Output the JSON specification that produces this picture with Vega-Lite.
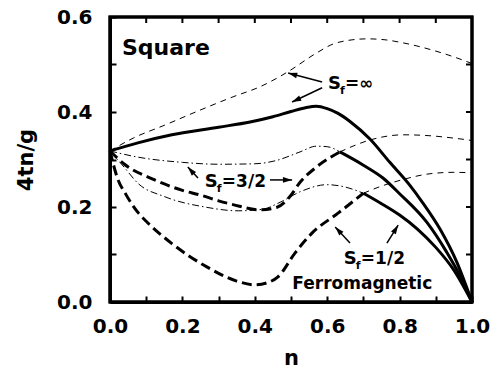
{
  "$schema": "https://vega.github.io/schema/vega-lite/v6.json",
  "width": 362,
  "height": 285,
  "autosize": {"type": "none"},
  "padding": {"left": 110, "top": 17, "right": 32, "bottom": 69},
  "background": "white",
  "view": {"stroke": "black", "strokeWidth": 3},
  "config": {
    "axis": {
      "grid": false,
      "domainColor": "black",
      "domainWidth": 3,
      "tickColor": "black",
      "tickWidth": 2,
      "tickSize": -6,
      "labelFont": "DejaVu Sans",
      "labelFontWeight": "bold",
      "labelFontSize": 20,
      "labelColor": "black",
      "labelOverlap": false,
      "labelFlush": false,
      "titleFont": "DejaVu Sans",
      "titleFontWeight": "bold",
      "titleFontSize": 21,
      "titleColor": "black"
    }
  },
  "datasets": {
    "curves": [
      {"curve": "inf-upper", "n": 0.0, "v": 0.318},
      {"curve": "inf-upper", "n": 0.064, "v": 0.345},
      {"curve": "inf-upper", "n": 0.15, "v": 0.372},
      {"curve": "inf-upper", "n": 0.249, "v": 0.404},
      {"curve": "inf-upper", "n": 0.34, "v": 0.432},
      {"curve": "inf-upper", "n": 0.414, "v": 0.453},
      {"curve": "inf-upper", "n": 0.49, "v": 0.484},
      {"curve": "inf-upper", "n": 0.57, "v": 0.524},
      {"curve": "inf-upper", "n": 0.616, "v": 0.543},
      {"curve": "inf-upper", "n": 0.66, "v": 0.551},
      {"curve": "inf-upper", "n": 0.71, "v": 0.554},
      {"curve": "inf-upper", "n": 0.76, "v": 0.552},
      {"curve": "inf-upper", "n": 0.8, "v": 0.547},
      {"curve": "inf-upper", "n": 0.892, "v": 0.53},
      {"curve": "inf-upper", "n": 0.95, "v": 0.516},
      {"curve": "inf-upper", "n": 1.0, "v": 0.502},

      {"curve": "inf-lower", "n": 0.0, "v": 0.318},
      {"curve": "inf-lower", "n": 0.077, "v": 0.335},
      {"curve": "inf-lower", "n": 0.171, "v": 0.352},
      {"curve": "inf-lower", "n": 0.3, "v": 0.368},
      {"curve": "inf-lower", "n": 0.387, "v": 0.379},
      {"curve": "inf-lower", "n": 0.45, "v": 0.39},
      {"curve": "inf-lower", "n": 0.5, "v": 0.401},
      {"curve": "inf-lower", "n": 0.54, "v": 0.409},
      {"curve": "inf-lower", "n": 0.57, "v": 0.412},
      {"curve": "inf-lower", "n": 0.6, "v": 0.407},
      {"curve": "inf-lower", "n": 0.63, "v": 0.397},
      {"curve": "inf-lower", "n": 0.663, "v": 0.38},
      {"curve": "inf-lower", "n": 0.718, "v": 0.343},
      {"curve": "inf-lower", "n": 0.773, "v": 0.294},
      {"curve": "inf-lower", "n": 0.829, "v": 0.245},
      {"curve": "inf-lower", "n": 0.862, "v": 0.211},
      {"curve": "inf-lower", "n": 0.912, "v": 0.153},
      {"curve": "inf-lower", "n": 0.958, "v": 0.084},
      {"curve": "inf-lower", "n": 1.0, "v": 0.0},

      {"curve": "3/2-B-meta", "n": 0.0, "v": 0.318},
      {"curve": "3/2-B-meta", "n": 0.077, "v": 0.305},
      {"curve": "3/2-B-meta", "n": 0.2, "v": 0.294},
      {"curve": "3/2-B-meta", "n": 0.3, "v": 0.29},
      {"curve": "3/2-B-meta", "n": 0.4, "v": 0.291},
      {"curve": "3/2-B-meta", "n": 0.46, "v": 0.298},
      {"curve": "3/2-B-meta", "n": 0.525, "v": 0.316},
      {"curve": "3/2-B-meta", "n": 0.57, "v": 0.328},
      {"curve": "3/2-B-meta", "n": 0.6, "v": 0.327},
      {"curve": "3/2-B-meta", "n": 0.635, "v": 0.316},

      {"curve": "3/2-A-stable", "n": 0.0, "v": 0.318},
      {"curve": "3/2-A-stable", "n": 0.04, "v": 0.29},
      {"curve": "3/2-A-stable", "n": 0.12, "v": 0.258},
      {"curve": "3/2-A-stable", "n": 0.2, "v": 0.235},
      {"curve": "3/2-A-stable", "n": 0.25, "v": 0.225},
      {"curve": "3/2-A-stable", "n": 0.3, "v": 0.213},
      {"curve": "3/2-A-stable", "n": 0.34, "v": 0.205},
      {"curve": "3/2-A-stable", "n": 0.414, "v": 0.194},
      {"curve": "3/2-A-stable", "n": 0.46, "v": 0.199},
      {"curve": "3/2-A-stable", "n": 0.497, "v": 0.222},
      {"curve": "3/2-A-stable", "n": 0.525, "v": 0.252},
      {"curve": "3/2-A-stable", "n": 0.57, "v": 0.284},
      {"curve": "3/2-A-stable", "n": 0.635, "v": 0.316},

      {"curve": "3/2-B-stable", "n": 0.635, "v": 0.316},
      {"curve": "3/2-B-stable", "n": 0.7, "v": 0.288},
      {"curve": "3/2-B-stable", "n": 0.754, "v": 0.261},
      {"curve": "3/2-B-stable", "n": 0.8, "v": 0.228},
      {"curve": "3/2-B-stable", "n": 0.875, "v": 0.168},
      {"curve": "3/2-B-stable", "n": 0.93, "v": 0.105},
      {"curve": "3/2-B-stable", "n": 0.965, "v": 0.058},
      {"curve": "3/2-B-stable", "n": 1.0, "v": 0.0},

      {"curve": "3/2-A-meta", "n": 0.635, "v": 0.316},
      {"curve": "3/2-A-meta", "n": 0.718, "v": 0.341},
      {"curve": "3/2-A-meta", "n": 0.81, "v": 0.352},
      {"curve": "3/2-A-meta", "n": 0.884, "v": 0.35},
      {"curve": "3/2-A-meta", "n": 0.95, "v": 0.345},
      {"curve": "3/2-A-meta", "n": 1.0, "v": 0.34},

      {"curve": "1/2-B-meta", "n": 0.0, "v": 0.318},
      {"curve": "1/2-B-meta", "n": 0.04, "v": 0.283},
      {"curve": "1/2-B-meta", "n": 0.077, "v": 0.25},
      {"curve": "1/2-B-meta", "n": 0.15, "v": 0.222},
      {"curve": "1/2-B-meta", "n": 0.262, "v": 0.2},
      {"curve": "1/2-B-meta", "n": 0.354, "v": 0.192},
      {"curve": "1/2-B-meta", "n": 0.42, "v": 0.195},
      {"curve": "1/2-B-meta", "n": 0.47, "v": 0.21},
      {"curve": "1/2-B-meta", "n": 0.525, "v": 0.232},
      {"curve": "1/2-B-meta", "n": 0.6, "v": 0.247},
      {"curve": "1/2-B-meta", "n": 0.65, "v": 0.242},
      {"curve": "1/2-B-meta", "n": 0.7, "v": 0.229},

      {"curve": "1/2-A-stable", "n": 0.0, "v": 0.318},
      {"curve": "1/2-A-stable", "n": 0.02, "v": 0.262},
      {"curve": "1/2-A-stable", "n": 0.045, "v": 0.225},
      {"curve": "1/2-A-stable", "n": 0.08, "v": 0.186},
      {"curve": "1/2-A-stable", "n": 0.1, "v": 0.17},
      {"curve": "1/2-A-stable", "n": 0.171, "v": 0.123},
      {"curve": "1/2-A-stable", "n": 0.265, "v": 0.075},
      {"curve": "1/2-A-stable", "n": 0.35, "v": 0.044},
      {"curve": "1/2-A-stable", "n": 0.4, "v": 0.036},
      {"curve": "1/2-A-stable", "n": 0.44, "v": 0.042},
      {"curve": "1/2-A-stable", "n": 0.464, "v": 0.053},
      {"curve": "1/2-A-stable", "n": 0.511, "v": 0.103},
      {"curve": "1/2-A-stable", "n": 0.558, "v": 0.145},
      {"curve": "1/2-A-stable", "n": 0.63, "v": 0.187},
      {"curve": "1/2-A-stable", "n": 0.7, "v": 0.229},

      {"curve": "1/2-B-stable", "n": 0.7, "v": 0.229},
      {"curve": "1/2-B-stable", "n": 0.75, "v": 0.207},
      {"curve": "1/2-B-stable", "n": 0.8, "v": 0.183},
      {"curve": "1/2-B-stable", "n": 0.85, "v": 0.153},
      {"curve": "1/2-B-stable", "n": 0.9, "v": 0.115},
      {"curve": "1/2-B-stable", "n": 0.95, "v": 0.067},
      {"curve": "1/2-B-stable", "n": 1.0, "v": 0.0},

      {"curve": "1/2-A-meta", "n": 0.7, "v": 0.229},
      {"curve": "1/2-A-meta", "n": 0.75, "v": 0.244},
      {"curve": "1/2-A-meta", "n": 0.81, "v": 0.258},
      {"curve": "1/2-A-meta", "n": 0.884, "v": 0.27},
      {"curve": "1/2-A-meta", "n": 0.95, "v": 0.273},
      {"curve": "1/2-A-meta", "n": 1.0, "v": 0.272}
    ],
    "arrows": [
      {"label": "inf", "n": 0.586, "v": 0.463, "n2": 0.492, "v2": 0.482},
      {"label": "inf", "n": 0.586, "v": 0.451, "n2": 0.503, "v2": 0.421},
      {"label": "3/2", "n": 0.243, "v": 0.261, "n2": 0.215, "v2": 0.284},
      {"label": "3/2", "n": 0.442, "v": 0.257, "n2": 0.503, "v2": 0.257},
      {"label": "1/2", "n": 0.663, "v": 0.124, "n2": 0.622, "v2": 0.158},
      {"label": "1/2", "n": 0.765, "v": 0.124, "n2": 0.796, "v2": 0.162}
    ],
    "arrowtips": [
      {"label": "inf", "n": 0.492, "v": 0.482, "angle": 285},
      {"label": "inf", "n": 0.503, "v": 0.421, "angle": 245},
      {"label": "3/2", "n": 0.215, "v": 0.284, "angle": 318},
      {"label": "3/2", "n": 0.503, "v": 0.257, "angle": 90},
      {"label": "1/2", "n": 0.622, "v": 0.158, "angle": 317},
      {"label": "1/2", "n": 0.796, "v": 0.162, "angle": 31}
    ],
    "spinlabels": [
      {"main": "S", "sub": "f", "rest": "=∞", "n": 0.602, "v": 0.448},
      {"main": "S", "sub": "f", "rest": "=3/2", "n": 0.262, "v": 0.242},
      {"main": "S", "sub": "f", "rest": "=1/2", "n": 0.646, "v": 0.08}
    ],
    "notes": [
      {"text": "Square", "n": 0.033, "v": 0.52, "kind": "title"},
      {"text": "Ferromagnetic", "n": 0.697, "v": 0.027, "kind": "phase"}
    ],
    "frame": [
      {"n": 0, "v": 0, "n2": 1, "v2": 0.6}
    ],
    "topticks": [
      {"n": 0.1, "v": 0.6}, {"n": 0.2, "v": 0.6}, {"n": 0.3, "v": 0.6},
      {"n": 0.4, "v": 0.6}, {"n": 0.5, "v": 0.6}, {"n": 0.6, "v": 0.6},
      {"n": 0.7, "v": 0.6}, {"n": 0.8, "v": 0.6}, {"n": 0.9, "v": 0.6}
    ],
    "rightticks": [
      {"n": 1, "v": 0.1}, {"n": 1, "v": 0.2}, {"n": 1, "v": 0.3},
      {"n": 1, "v": 0.4}, {"n": 1, "v": 0.5}
    ]
  },
  "layer": [
    {
      "data": {"name": "curves"},
      "transform": [{"filter": {"field": "curve", "oneOf": ["inf-lower", "3/2-B-stable", "1/2-B-stable"]}}],
      "mark": {"type": "line", "interpolate": "monotone", "color": "black", "strokeWidth": 3},
      "encoding": {
        "x": {
          "field": "n", "type": "quantitative",
          "scale": {"domain": [0, 1], "nice": false},
          "axis": {
            "orient": "bottom",
            "title": "n",
            "values": [0, 0.1, 0.2, 0.3, 0.4, 0.5, 0.6, 0.7, 0.8, 0.9, 1.0],
            "labelExpr": "round(datum.value*10)%2==0 ? format(datum.value, '.1f') : ''",
            "labelPadding": 20,
            "titlePadding": 11
          }
        },
        "y": {
          "field": "v", "type": "quantitative",
          "scale": {"domain": [0, 0.6], "nice": false},
          "axis": {
            "orient": "left",
            "title": "4tn/g",
            "values": [0, 0.1, 0.2, 0.3, 0.4, 0.5, 0.6],
            "labelExpr": "round(datum.value*10)%2==0 ? format(datum.value, '.1f') : ''",
            "labelPadding": 24,
            "titlePadding": 20
          }
        },
        "detail": {"field": "curve", "type": "nominal"}
      }
    },
    {
      "data": {"name": "frame"},
      "mark": {"type": "rect", "filled": false, "color": "black", "strokeWidth": 3},
      "encoding": {
        "x": {"field": "n", "type": "quantitative", "axis": null},
        "x2": {"field": "n2"},
        "y": {"field": "v", "type": "quantitative", "axis": null},
        "y2": {"field": "v2"}
      }
    },
    {
      "data": {"name": "topticks"},
      "mark": {"type": "rule", "color": "black", "strokeWidth": 2, "y2Offset": 6},
      "encoding": {
        "x": {"field": "n", "type": "quantitative", "axis": null},
        "y": {"field": "v", "type": "quantitative", "axis": null},
        "y2": {"field": "v"}
      }
    },
    {
      "data": {"name": "rightticks"},
      "mark": {"type": "rule", "color": "black", "strokeWidth": 2, "x2Offset": -6},
      "encoding": {
        "x": {"field": "n", "type": "quantitative", "axis": null},
        "x2": {"field": "n"},
        "y": {"field": "v", "type": "quantitative", "axis": null}
      }
    },
    {
      "data": {"name": "arrows"},
      "mark": {"type": "rule", "color": "black", "strokeWidth": 1.5},
      "encoding": {
        "x": {"field": "n", "type": "quantitative", "axis": null},
        "y": {"field": "v", "type": "quantitative", "axis": null},
        "x2": {"field": "n2"},
        "y2": {"field": "v2"}
      }
    },
    {
      "data": {"name": "curves"},
      "transform": [{"filter": {"field": "curve", "oneOf": ["3/2-A-stable", "1/2-A-stable"]}}],
      "mark": {"type": "line", "interpolate": "monotone", "color": "black", "strokeWidth": 3, "strokeDash": [10, 5]},
      "encoding": {
        "x": {"field": "n", "type": "quantitative", "axis": null},
        "y": {"field": "v", "type": "quantitative", "axis": null},
        "detail": {"field": "curve", "type": "nominal"}
      }
    },
    {
      "data": {"name": "curves"},
      "transform": [{"filter": {"field": "curve", "oneOf": ["inf-upper", "3/2-A-meta", "1/2-A-meta"]}}],
      "mark": {"type": "line", "interpolate": "monotone", "color": "black", "strokeWidth": 1, "strokeDash": [6, 5]},
      "encoding": {
        "x": {"field": "n", "type": "quantitative", "axis": null},
        "y": {"field": "v", "type": "quantitative", "axis": null},
        "detail": {"field": "curve", "type": "nominal"}
      }
    },
    {
      "data": {"name": "curves"},
      "transform": [{"filter": {"field": "curve", "oneOf": ["3/2-B-meta", "1/2-B-meta"]}}],
      "mark": {"type": "line", "interpolate": "monotone", "color": "black", "strokeWidth": 1, "strokeDash": [7, 3, 1.5, 3]},
      "encoding": {
        "x": {"field": "n", "type": "quantitative", "axis": null},
        "y": {"field": "v", "type": "quantitative", "axis": null},
        "detail": {"field": "curve", "type": "nominal"}
      }
    },
    {
      "data": {"name": "arrowtips"},
      "mark": {"type": "point", "shape": "M0,0L0.5,1.6L-0.5,1.6Z", "filled": true, "color": "black", "size": 130, "opacity": 1},
      "encoding": {
        "x": {"field": "n", "type": "quantitative", "axis": null},
        "y": {"field": "v", "type": "quantitative", "axis": null},
        "angle": {"field": "angle", "type": "quantitative", "scale": null}
      }
    },
    {
      "data": {"name": "spinlabels"},
      "mark": {"type": "text", "font": "DejaVu Sans", "fontWeight": "bold", "fontSize": 18, "align": "left", "baseline": "alphabetic", "color": "black"},
      "encoding": {
        "x": {"field": "n", "type": "quantitative", "axis": null},
        "y": {"field": "v", "type": "quantitative", "axis": null},
        "text": {"field": "main", "type": "nominal"}
      }
    },
    {
      "data": {"name": "spinlabels"},
      "mark": {"type": "text", "font": "DejaVu Sans", "fontWeight": "bold", "fontSize": 11, "align": "left", "baseline": "alphabetic", "dx": 12, "dy": 5, "color": "black"},
      "encoding": {
        "x": {"field": "n", "type": "quantitative", "axis": null},
        "y": {"field": "v", "type": "quantitative", "axis": null},
        "text": {"field": "sub", "type": "nominal"}
      }
    },
    {
      "data": {"name": "spinlabels"},
      "mark": {"type": "text", "font": "DejaVu Sans", "fontWeight": "bold", "fontSize": 17, "align": "left", "baseline": "alphabetic", "dx": 17, "color": "black"},
      "encoding": {
        "x": {"field": "n", "type": "quantitative", "axis": null},
        "y": {"field": "v", "type": "quantitative", "axis": null},
        "text": {"field": "rest", "type": "nominal"}
      }
    },
    {
      "data": {"name": "notes"},
      "transform": [{"filter": "datum.kind == 'title'"}],
      "mark": {"type": "text", "font": "DejaVu Sans", "fontWeight": "bold", "fontSize": 22, "align": "left", "baseline": "alphabetic", "color": "black"},
      "encoding": {
        "x": {"field": "n", "type": "quantitative", "axis": null},
        "y": {"field": "v", "type": "quantitative", "axis": null},
        "text": {"field": "text", "type": "nominal"}
      }
    },
    {
      "data": {"name": "notes"},
      "transform": [{"filter": "datum.kind == 'phase'"}],
      "mark": {"type": "text", "font": "DejaVu Sans", "fontWeight": "bold", "fontSize": 17, "align": "center", "baseline": "alphabetic", "color": "black"},
      "encoding": {
        "x": {"field": "n", "type": "quantitative", "axis": null},
        "y": {"field": "v", "type": "quantitative", "axis": null},
        "text": {"field": "text", "type": "nominal"}
      }
    }
  ],
  "resolve": {"axis": {"x": "independent", "y": "independent"}}
}
